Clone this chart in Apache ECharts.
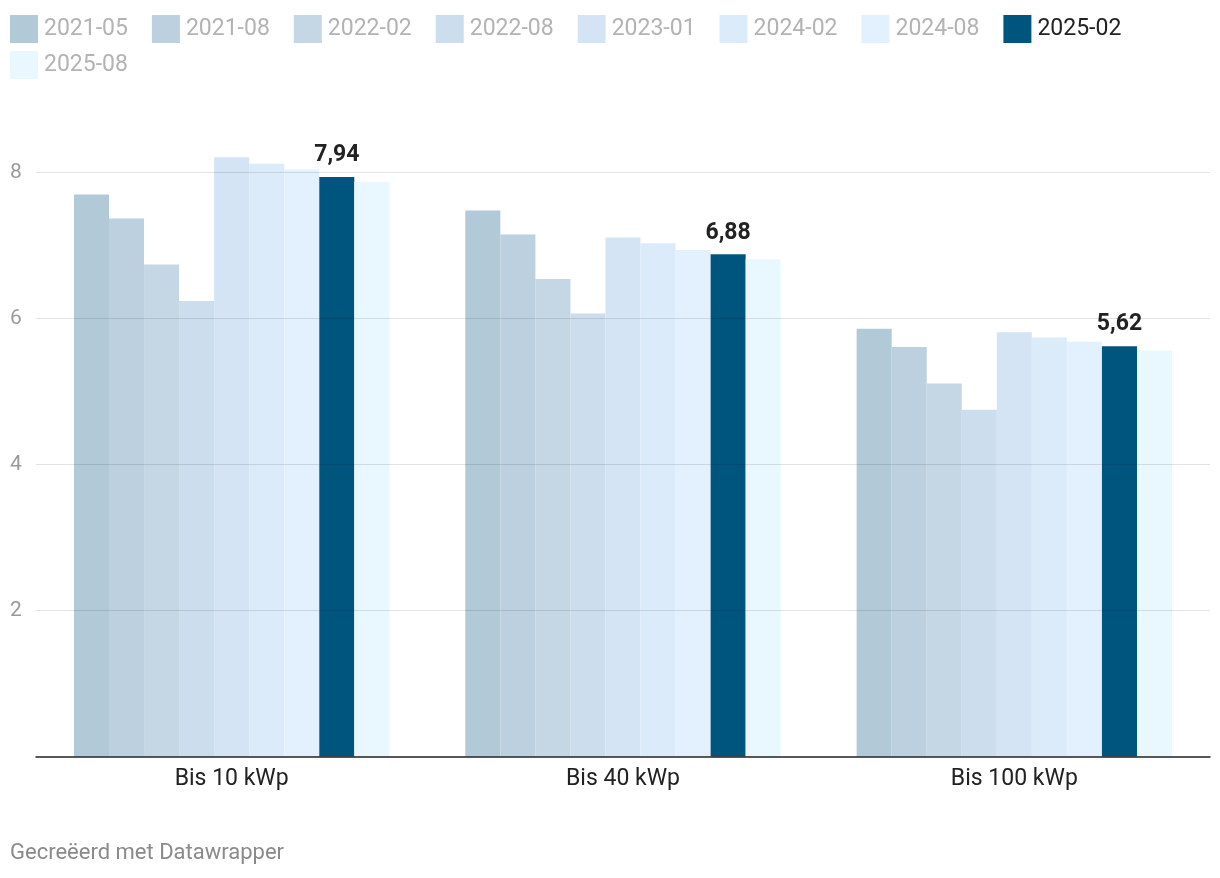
<!DOCTYPE html>
<html>
<head>
<meta charset="utf-8">
<script src="https://cdn.jsdelivr.net/npm/echarts@6/dist/echarts.min.js"></script>
<style>
html,body{margin:0;padding:0;background:#fff;}
#chart{width:1220px;height:878px;}
</style>
</head>
<body>
<div id="chart"></div>
<script>
const categories = ['Bis 10 kWp', 'Bis 40 kWp', 'Bis 100 kWp'];
const seriesNames = ['2021-05', '2021-08', '2022-02', '2022-08', '2023-01', '2024-02', '2024-08', '2025-02', '2025-08'];
const s2021_05 = [7.70, 7.48, 5.86];
const s2021_08 = [7.37, 7.15, 5.61];
const s2022_02 = [6.74, 6.54, 5.11];
const s2022_08 = [6.24, 6.07, 4.75];
const s2023_01 = [8.21, 7.11, 5.81];
const s2024_02 = [8.12, 7.03, 5.74];
const s2024_08 = [8.04, 6.94, 5.68];
const s2025_02 = [7.94, 6.88, 5.62];
const s2025_08 = [7.87, 6.81, 5.56];
const yTicks = [2, 4, 6, 8];

const values = [s2021_05, s2021_08, s2022_02, s2022_08, s2023_01, s2024_02, s2024_08, s2025_02, s2025_08];
const colors = ['#b2c9d8', '#bcd0df', '#c5d6e5', '#ccdded', '#d4e4f4', '#dbebfa', '#e2f1fd', '#00557e', '#e9f8fe'];
const highlight = '2025-02';

const chart = echarts.init(document.getElementById('chart'));
const font = 'Roboto, "Noto Sans", sans-serif';

const series = seriesNames.map((name, i) => ({
  name: name,
  type: 'bar',
  data: values[i],
  barGap: '0%',
  barCategoryGap: '19.4%',
  itemStyle: { color: colors[i] },
  emphasis: { disabled: true },
  label: {
    show: name === highlight,
    position: 'top',
    distance: 10,
    fontFamily: font,
    fontSize: 23,
    fontWeight: 'bold',
    color: '#222',
    formatter: p => p.value.toFixed(2).replace('.', ',')
  }
}));

const legendItem = n => ({
  name: n,
  textStyle: { color: n === highlight ? '#222' : '#b3b3b3', fontSize: 23, fontFamily: font }
});
const legendBase = {
  left: 5,
  itemWidth: 28,
  itemHeight: 28,
  itemGap: 24,
  padding: [5, 5],
  icon: 'rect',
  selectedMode: false,
  textStyle: { fontSize: 23, fontFamily: font, padding: [0, 0, 0, 1] }
};

chart.setOption({
  animation: false,
  textStyle: { fontFamily: font },
  color: colors,
  legend: [
    Object.assign({}, legendBase, { top: 10, data: seriesNames.slice(0, 8).map(legendItem) }),
    Object.assign({}, legendBase, { top: 46, data: seriesNames.slice(8).map(legendItem) })
  ],
  grid: { left: 36, right: 10, top: 99.5, bottom: 121.5, containLabel: false },
  xAxis: {
    type: 'category',
    data: categories,
    axisLine: { lineStyle: { color: '#222', width: 1.5 } },
    axisTick: { show: false },
    axisLabel: { fontSize: 23, color: '#222', margin: 11, fontFamily: font },
    z: 5
  },
  yAxis: {
    type: 'value',
    min: 0,
    max: 9,
    interval: 2,
    z: 4,
    axisLine: { show: false },
    axisTick: { show: false },
    splitLine: { show: true, showMinLine: false, showMaxLine: false, lineStyle: { color: 'rgba(0,0,0,0.11)', width: 1.2 } },
    axisLabel: {
      showMinLabel: false,
      showMaxLabel: false,
      fontSize: 21,
      color: '#9a9a9a',
      align: 'left',
      margin: 26,
      fontFamily: font,
      formatter: v => yTicks.includes(v) ? String(v) : ''
    }
  },
  graphic: [{
    type: 'text',
    left: 10,
    top: 842,
    style: { text: 'Gecreëerd met Datawrapper', fontSize: 22, fill: '#8a8a8a', fontFamily: font }
  }],
  series: series
});
</script>
</body>
</html>
